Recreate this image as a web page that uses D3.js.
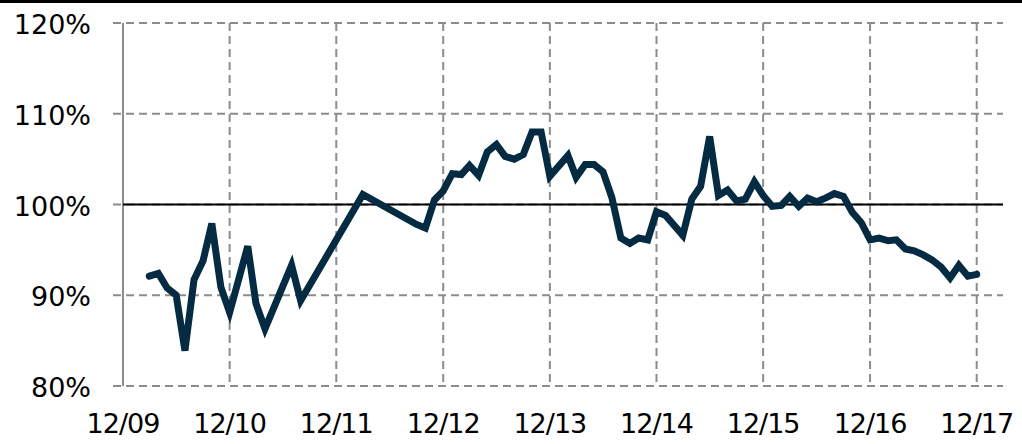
<!doctype html>
<html lang="en">
<head>
  <meta charset="utf-8">
  <title>Ratio chart</title>
  <script src="https://d3js.org/d3.v7.min.js"></script>
  <style>
    body { margin: 0; background: #fff; }
    text { font-family: "DejaVu Sans", Verdana, sans-serif; font-size: 27px; fill: #000; }
  </style>
</head>
<body>
<div id='my_chart'></div>
<script>
  const width = 1022;
  const height = 444;
  const margin = {top: 23, right: 19, bottom: 58, left: 123};

  // data (month, value in %)
  const months = ["2010-03","2010-04","2010-05","2010-06","2010-07","2010-08","2010-09","2010-10","2010-11","2010-12",
    "2011-02","2011-03","2011-04","2011-07","2011-08",
    "2012-03","2012-09","2012-10","2012-11","2012-12",
    "2013-01","2013-02","2013-03","2013-04","2013-05","2013-06","2013-07","2013-08","2013-09","2013-10","2013-11","2013-12",
    "2014-02","2014-03","2014-04","2014-05","2014-06","2014-07","2014-08","2014-09","2014-10","2014-11","2014-12",
    "2015-01","2015-03","2015-04","2015-05","2015-06","2015-07","2015-08","2015-09","2015-10","2015-11","2015-12",
    "2016-01","2016-02","2016-03","2016-04","2016-05","2016-06","2016-07","2016-08","2016-09","2016-10","2016-11","2016-12",
    "2017-01","2017-02","2017-03","2017-04","2017-05","2017-06","2017-07","2017-08","2017-09","2017-10","2017-11","2017-12"];
  const values = [92.1, 92.4, 90.8, 90.0, 83.9, 91.7, 93.8, 97.9, 90.9, 88.1,
    95.4, 89.1, 86.3, 93.3, 89.4,
    101.1, 97.8, 97.4, 100.5, 101.5,
    103.4, 103.3, 104.3, 103.2, 105.8, 106.6, 105.3, 105.0, 105.5, 108.0, 108.0, 103.1,
    105.4, 103.0, 104.4, 104.4, 103.6, 100.8, 96.3, 95.7, 96.3, 96.1, 99.2,
    98.8, 96.6, 100.6, 102.0, 107.5, 101.0, 101.6, 100.4, 100.6, 102.5, 101.0,
    99.8, 99.9, 100.9, 99.8, 100.7, 100.3, 100.7, 101.2, 100.9, 99.15, 98.0, 96.1,
    96.3, 96.0, 96.1, 95.1, 94.9, 94.45, 93.9, 93.1, 91.9, 93.3, 92.1, 92.3];

  const y_ticks = [80, 90, 100, 110, 120];
  const x_ticks = ["2009-12","2010-12","2011-12","2012-12","2013-12","2014-12","2015-12","2016-12","2017-12"];

  const parse = d3.timeParse("%Y-%m");
  const my_data = months.map((m, i) => ({x: parse(m), y: values[i]}));

  const x = d3.scaleTime()
    .domain([parse("2009-12"), parse("2018-03")])
    .range([margin.left, width - margin.right]);
  const y = d3.scaleLinear()
    .domain([80, 120])
    .range([height - margin.bottom, margin.top]);

  const grid_color = '#8c8c8c';

  let chart = d3.select('#my_chart').append('svg')
    .attr('width', width)
    .attr('height', height);

  // top bar
  chart.append('rect')
    .attr('x', 0).attr('y', 0)
    .attr('width', width).attr('height', 3)
    .attr('fill', '#000');

  // horizontal grid lines
  chart.append('g')
    .selectAll('line')
    .data(y_ticks)
    .enter().append('line')
      .attr('x1', margin.left - 10)
      .attr('x2', width - margin.right)
      .attr('y1', d => y(d))
      .attr('y2', d => y(d))
      .attr('stroke', grid_color)
      .attr('stroke-width', 2)
      .attr('stroke-dasharray', '8,5');

  // vertical grid lines
  chart.append('g')
    .selectAll('line')
    .data(x_ticks.slice(1))
    .enter().append('line')
      .attr('x1', d => x(parse(d)))
      .attr('x2', d => x(parse(d)))
      .attr('y1', y(120))
      .attr('y2', y(80))
      .attr('stroke', grid_color)
      .attr('stroke-width', 2)
      .attr('stroke-dasharray', '8,5');

  // left axis line
  chart.append('line')
    .attr('x1', margin.left).attr('x2', margin.left)
    .attr('y1', y(120)).attr('y2', y(80))
    .attr('stroke', grid_color)
    .attr('stroke-width', 2);

  // 100% reference line
  chart.append('line')
    .attr('x1', margin.left).attr('x2', width - margin.right)
    .attr('y1', y(100)).attr('y2', y(100))
    .attr('stroke', '#000')
    .attr('stroke-width', 2);

  // y labels
  chart.append('g')
    .selectAll('text')
    .data(y_ticks)
    .enter().append('text')
      .attr('x', 91)
      .attr('y', d => y(d) + 11)
      .attr('text-anchor', 'end')
      .text(d => d + '%');

  // x labels
  chart.append('g')
    .selectAll('text')
    .data(x_ticks)
    .enter().append('text')
      .attr('x', d => x(parse(d)))
      .attr('y', 433)
      .attr('text-anchor', 'middle')
      .attr('letter-spacing', -1)
      .text(d => d3.timeFormat('%m/%y')(parse(d)));

  // line
  const line = d3.line()
    .x(d => x(d.x))
    .y(d => y(d.y));

  chart.append('path')
    .datum(my_data)
    .attr('fill', 'none')
    .attr('stroke', '#052b42')
    .attr('stroke-width', 7)
    .attr('stroke-linejoin', 'miter')
    .attr('stroke-linecap', 'round')
    .attr('d', line);
</script>
</body>
</html>
